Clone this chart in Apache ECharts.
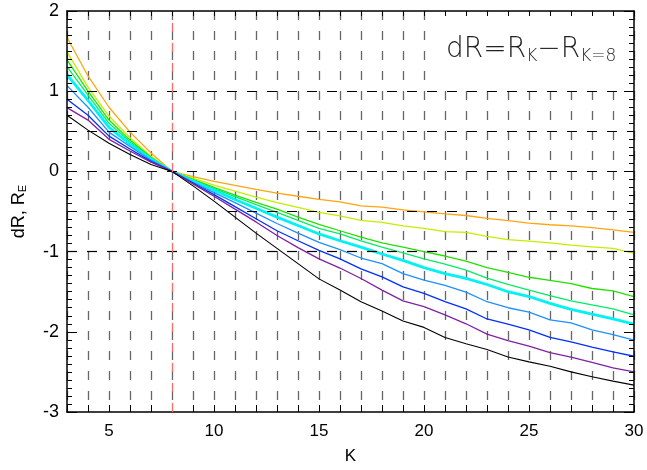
<!DOCTYPE html>
<html>
<head>
<meta charset="utf-8">
<script src="https://cdn.jsdelivr.net/npm/echarts@6/dist/echarts.min.js"></script>
<style>html,body{margin:0;padding:0;background:#fff}#c{width:647px;height:470px}</style>
</head>
<body>
<div id="c"></div>
<script>
var K = [3,4,5,6,7,8,9,10,11,12,13,14,15,16,17,18,19,20,21,22,23,24,25,26,27,28,29,30];
var sOrange = [1.67,1.19,0.80,0.49,0.23,0,-0.065,-0.125,-0.175,-0.225,-0.27,-0.31,-0.35,-0.38,-0.43,-0.445,-0.48,-0.505,-0.53,-0.55,-0.585,-0.615,-0.645,-0.665,-0.68,-0.70,-0.73,-0.76];
var sYellowGreen = [1.49,1.05,0.69,0.42,0.19,0,-0.085,-0.17,-0.245,-0.32,-0.39,-0.45,-0.51,-0.555,-0.61,-0.635,-0.68,-0.71,-0.75,-0.76,-0.81,-0.85,-0.87,-0.89,-0.92,-0.94,-0.96,-1.02];
var sGreen = [1.39,1.00,0.64,0.39,0.175,0,-0.10,-0.20,-0.295,-0.385,-0.47,-0.57,-0.66,-0.74,-0.82,-0.89,-0.945,-1.0,-1.055,-1.12,-1.20,-1.26,-1.32,-1.36,-1.40,-1.46,-1.49,-1.56];
var sSpring = [1.305,0.95,0.60,0.37,0.165,0,-0.11,-0.215,-0.315,-0.415,-0.51,-0.61,-0.71,-0.78,-0.865,-0.945,-1.015,-1.09,-1.155,-1.23,-1.33,-1.41,-1.48,-1.55,-1.615,-1.665,-1.715,-1.79];
var sCyan = [1.205,0.885,0.55,0.34,0.155,0,-0.12,-0.235,-0.35,-0.46,-0.57,-0.675,-0.78,-0.865,-0.945,-1.03,-1.11,-1.2,-1.275,-1.335,-1.41,-1.50,-1.56,-1.645,-1.72,-1.78,-1.84,-1.905];
var sDodger = [1.07,0.80,0.49,0.31,0.14,0,-0.135,-0.265,-0.39,-0.52,-0.65,-0.77,-0.885,-0.975,-1.08,-1.15,-1.275,-1.355,-1.42,-1.505,-1.625,-1.70,-1.755,-1.85,-1.89,-1.975,-2.035,-2.105];
var sBlue = [0.90,0.70,0.44,0.28,0.125,0,-0.145,-0.29,-0.44,-0.59,-0.74,-0.865,-0.985,-1.09,-1.215,-1.315,-1.44,-1.52,-1.625,-1.715,-1.84,-1.905,-1.975,-2.07,-2.125,-2.19,-2.25,-2.305];
var sPurple = [0.795,0.64,0.40,0.255,0.115,0,-0.155,-0.31,-0.47,-0.63,-0.80,-0.95,-1.09,-1.205,-1.335,-1.48,-1.615,-1.685,-1.79,-1.90,-2.03,-2.11,-2.18,-2.26,-2.315,-2.38,-2.45,-2.50];
var sBlack = [0.70,0.515,0.35,0.21,0.085,0,-0.18,-0.37,-0.57,-0.77,-0.96,-1.15,-1.34,-1.48,-1.625,-1.74,-1.865,-1.945,-2.07,-2.15,-2.22,-2.315,-2.375,-2.43,-2.50,-2.56,-2.615,-2.665];
var hRefLines = [1, 0.5, 0, -0.5, -1];
var vRefK = 8;
var xTickLabels = [5, 10, 15, 20, 25, 30];
var yTickLabels = [-3, -2, -1, 0, 1, 2];

var seriesList = [
  {d: sOrange, c: '#ffa510', w: 1.3},
  {d: sYellowGreen, c: '#c4ee00', w: 1.3},
  {d: sGreen, c: '#22e000', w: 1.3},
  {d: sSpring, c: '#00ee66', w: 1.3},
  {d: sCyan, c: '#00f2f2', w: 2.8},
  {d: sDodger, c: '#1e90ff', w: 1.3},
  {d: sBlue, c: '#0030ff', w: 1.3},
  {d: sPurple, c: '#7f22a0', w: 1.3},
  {d: sBlack, c: '#000000', w: 1.1}
];

function pairs(arr){ return K.map(function(k,i){ return [k, arr[i]]; }); }

var font = 'Liberation Sans';
var chart = echarts.init(document.getElementById('c'), null, {renderer: 'canvas'});
var series = [{
  type: 'line', data: [], xAxisIndex: 0, yAxisIndex: 0, silent: true, z: 2,
  markLine: {
    silent: true, symbol: ['none','none'], animation: false,
    label: {show: false},
    lineStyle: {color: '#000', type: [10, 10], width: 1.2},
    data: hRefLines.map(function(v){ return {yAxis: v}; })
  }
}, {
  type: 'line', data: [], xAxisIndex: 0, yAxisIndex: 0, silent: true, z: 2,
  markLine: {
    silent: true, symbol: ['none','none'], animation: false,
    label: {show: false},
    lineStyle: {color: '#ff6a6a', type: [9, 11], width: 1.3},
    data: [{xAxis: vRefK}]
  }
}];
seriesList.forEach(function(s){
  series.push({type: 'line', data: pairs(s.d), showSymbol: false, symbol: 'none', silent: true,
    lineStyle: {color: s.c, width: s.w}, z: 3, animation: false});
});

chart.setOption({
  animation: false,
  backgroundColor: '#fff',
  grid: {left: 67, right: 13, top: 11, bottom: 56, containLabel: false},
  xAxis: [{
    type: 'value', min: 3, max: 30, interval: 1, position: 'bottom', z: 0,
    name: 'K', nameLocation: 'middle', nameGap: 36,
    nameTextStyle: {fontFamily: font, fontSize: 17, color: '#000'},
    axisLine: {show: true, onZero: false, lineStyle: {color: '#000', width: 1.5}},
    axisTick: {show: true, inside: true, length: 7, lineStyle: {color: '#000', width: 1}},
    axisLabel: {show: true, margin: 11, fontFamily: font, fontSize: 17, color: '#000',
      formatter: function(v){ return xTickLabels.indexOf(v) >= 0 ? String(v) : ''; }},
    splitLine: {show: true, lineStyle: {color: '#666', type: [9, 11], width: 1.3}}
  }, {
    type: 'value', min: 3, max: 30, interval: 1, position: 'top', z: 6,
    axisLine: {show: true, onZero: false, lineStyle: {color: '#000', width: 1.5}},
    axisTick: {show: true, inside: true, length: 5, lineStyle: {color: '#000', width: 1}},
    axisLabel: {show: false}, splitLine: {show: false}
  }],
  yAxis: [{
    type: 'value', min: -3, max: 2, interval: 1, position: 'left', z: 6,
    name: 'dR, R{s|E}', nameLocation: 'middle', nameGap: 39, nameRotate: 90,
    nameTextStyle: {fontFamily: font, fontSize: 18, color: '#000',
      rich: {s: {fontFamily: font, fontSize: 11, color: '#000', padding: [7, 0, 0, 0]}}},
    axisLine: {show: true, onZero: false, lineStyle: {color: '#000', width: 1.5}},
    axisTick: {show: true, inside: true, length: 10, lineStyle: {color: '#000', width: 1}},
    minorTick: {show: true, splitNumber: 10, length: 5, lineStyle: {color: '#000', width: 1}},
    axisLabel: {show: true, margin: 8, fontFamily: font, fontSize: 18, color: '#000',
      formatter: function(v){ return yTickLabels.indexOf(v) >= 0 ? String(v) : ''; }},
    splitLine: {show: false}
  }, {
    type: 'value', min: -3, max: 2, interval: 1, position: 'right', z: 6,
    axisLine: {show: true, onZero: false, lineStyle: {color: '#000', width: 1.5}},
    axisTick: {show: true, inside: true, length: 10, lineStyle: {color: '#000', width: 1}},
    minorTick: {show: true, splitNumber: 10, length: 5, lineStyle: {color: '#000', width: 1}},
    axisLabel: {show: false}, splitLine: {show: false}
  }],
  graphic: [{
    type: 'rect', left: 436, top: 12, z: 4,
    shape: {width: 196, height: 74},
    style: {fill: '#fff'}, silent: true
  }, {
    type: 'text', left: 446, top: 36, z: 5,
    style: {
      text: 'dR=R{s|K}\u2212R{s|K=8}',
      fontFamily: 'DejaVu Sans', fontWeight: 200, fontSize: 28, fill: '#222',
      rich: {s: {fontFamily: 'DejaVu Sans', fontWeight: 200, fontSize: 17, fill: '#222', padding: [14, 0, 0, 0]}}
    }
  }],
  series: series
});
</script>
</body>
</html>
